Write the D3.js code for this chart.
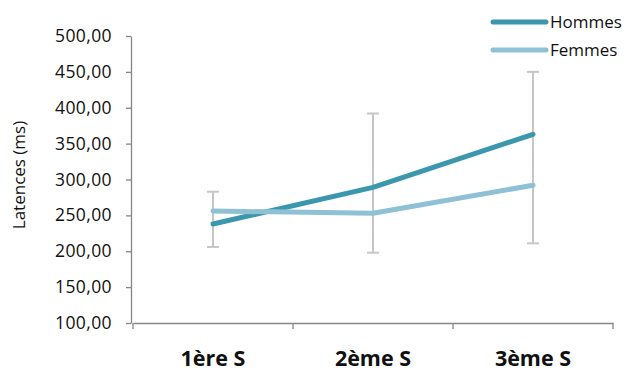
<!DOCTYPE html>
<html><head><meta charset="utf-8">
<script src="https://cdn.jsdelivr.net/npm/d3@7"></script>
<style>body{margin:0;background:#fff}svg{display:block}</style>
</head><body>
<svg id="c" width="631" height="377"></svg>
<script>
const categories = ["1ère S", "2ème S", "3ème S"];
const hommes = [238, 289, 363];
const femmes = [256, 253, 292];
const errTop = [283, 392, 450];     // upper end of error bar (Hommes +)
const errBottom = [206, 198, 211];  // lower end of error bar (Femmes -)
const yTicks = [100,150,200,250,300,350,400,450,500];
const seriesNames = ["Hommes", "Femmes"];
const colors = ["#3b97ae", "#8dc1d3"];

const svg = d3.select("#c");
const font = "'Open Sans', 'Liberation Sans', sans-serif";
const x = d3.scaleBand().domain(categories).range([133, 613]);
const y = d3.scaleLinear().domain([100, 500]).range([323, 36]);
const cx = c => x(c) + x.bandwidth()/2;

// Y axis
const ya = svg.append("g").attr("transform","translate(131,0)")
  .call(d3.axisLeft(y).tickValues(yTicks).tickSize(5).tickSizeOuter(0)
    .tickFormat(d => d3.format(".2f")(d).replace(".", ",")));
ya.select(".domain").attr("stroke","#868686").attr("stroke-width",1.3);
ya.selectAll(".tick line").attr("stroke","#868686").attr("stroke-width",1.3);
ya.selectAll("text").attr("font-family",font).attr("font-size",17.5).attr("letter-spacing",0.4)
  .attr("fill","#111").attr("x",-19);

// X axis
const xa = svg.append("g").attr("transform","translate(0,323)")
  .call(d3.axisBottom(x).tickSize(0).tickSizeOuter(0));
xa.select(".domain").attr("stroke","#868686").attr("stroke-width",1.3);
xa.selectAll(".tick text").attr("font-family",font).attr("font-size",21.5).attr("font-weight","bold").attr("fill","#111").attr("y",28);
// boundary ticks
const bounds = categories.map(c => x(c)).concat([x(categories[categories.length-1]) + x.bandwidth()]);
svg.append("g").selectAll("line").data(bounds).join("line")
  .attr("x1", d=>d).attr("x2", d=>d).attr("y1",323).attr("y2",329)
  .attr("stroke","#868686").attr("stroke-width",1.3);

// Y label
svg.append("text").attr("transform","translate(25,175) rotate(-90)")
  .attr("text-anchor","middle").attr("font-family",font).attr("font-size",17).attr("fill","#111").text("Latences (ms)");

// Error bars
const eb = svg.append("g").attr("stroke","#c6c6c6").attr("stroke-width",2);
categories.forEach((c,i) => {
  const px = cx(c);
  eb.append("line").attr("x1",px).attr("x2",px).attr("y1",y(errTop[i])).attr("y2",y(errBottom[i]));
  eb.append("line").attr("x1",px-6).attr("x2",px+6).attr("y1",y(errTop[i])).attr("y2",y(errTop[i]));
  eb.append("line").attr("x1",px-6).attr("x2",px+6).attr("y1",y(errBottom[i])).attr("y2",y(errBottom[i]));
});

// Lines
const line = d3.line().x((d,i)=>cx(categories[i])).y(d=>y(d));
[hommes, femmes].forEach((s,k) => {
  svg.append("path").datum(s).attr("d", line).attr("fill","none")
    .attr("stroke", colors[k]).attr("stroke-width",5)
    .attr("stroke-linecap","round").attr("stroke-linejoin","round");
});

// Legend
seriesNames.forEach((n,k) => {
  const ly = 22 + k*28;
  svg.append("line").attr("x1",493).attr("x2",546).attr("y1",ly).attr("y2",ly)
    .attr("stroke",colors[k]).attr("stroke-width",5).attr("stroke-linecap","round");
  svg.append("text").attr("x",550).attr("y",ly+6).attr("font-family",font).attr("font-size",17).attr("fill","#111").text(n);
});
</script>
</body></html>
